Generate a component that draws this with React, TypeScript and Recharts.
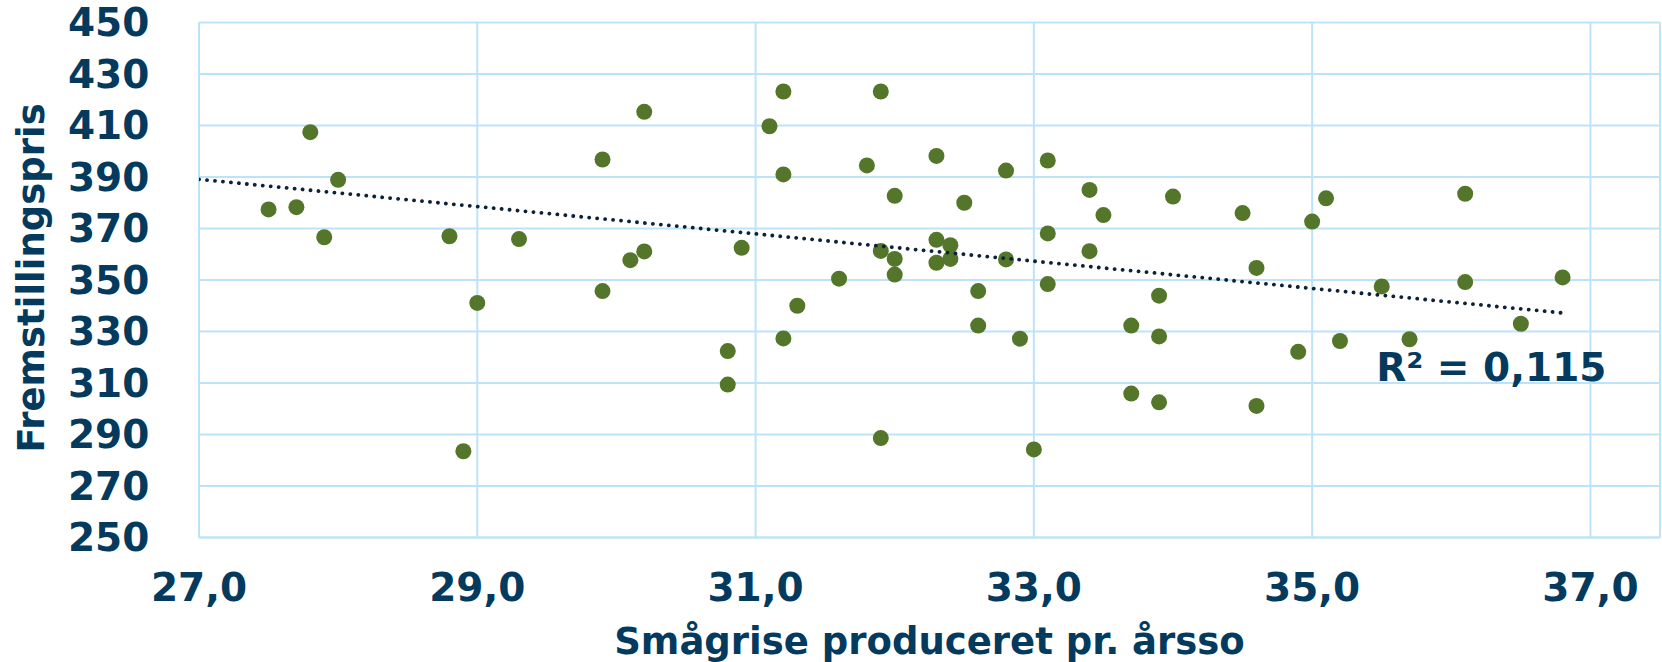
import React from 'react';
import { ScatterChart, Scatter, XAxis, YAxis, CartesianGrid, ReferenceDot } from 'recharts';

const smagrise = [
  27.5, 27.7, 27.8, 27.9, 28.0, 28.8, 28.9, 29.0, 29.3, 29.9, 29.9, 30.1, 30.2, 30.2, 30.8, 30.8, 30.9,
  31.1, 31.2, 31.2, 31.2, 31.3, 31.6, 31.8, 31.9, 31.9, 31.9, 32.0, 32.0, 32.0, 32.3, 32.3, 32.3, 32.4,
  32.4, 32.5, 32.6, 32.6, 32.8, 32.8, 32.9, 33.0, 33.1, 33.1, 33.1, 33.4, 33.4, 33.5, 33.7, 33.7, 33.9,
  33.9, 33.9, 34.0, 34.5, 34.6, 34.6, 34.9, 35.0, 35.1, 35.2, 35.5, 35.7, 36.1, 36.1, 36.5, 36.8,
];
const fremstillingspris = [
  377.4, 378.3, 407.4, 366.6, 388.9, 367.0, 283.5, 341.1, 365.9, 396.8, 345.7, 357.7, 361.1, 415.3, 322.4, 309.4, 362.5,
  409.7, 423.2, 391.0, 327.3, 340.0, 350.5, 394.5, 423.2, 361.3, 288.6, 382.7, 358.2, 352.1, 398.2, 365.6, 356.7, 363.5,
  358.2, 380.0, 345.7, 332.3, 392.5, 358.0, 327.2, 284.2, 396.4, 368.1, 348.4, 385.0, 361.2, 375.2, 332.3, 305.9, 343.9,
  328.1, 302.5, 382.4, 376.0, 354.7, 301.1, 322.1, 372.7, 381.7, 326.3, 347.5, 327.0, 383.5, 349.2, 333.0, 351.0,
];

const trendX = [27.0, 36.8];
const trendY = [389.1, 337.2];

const xTicks = [27, 29, 31, 33, 35, 37];
const yTicks = [250, 270, 290, 310, 330, 350, 370, 390, 410, 430, 450];

const r2Text = 'R² = 0,115';
const r2Pos = { x: 35.46, y: 310.6 };

const xTitle = 'Smågrise produceret pr. årsso';
const yTitle = 'Fremstillingspris';

const points = smagrise.map((x, i) => ({ x, y: fremstillingspris[i] }));
const trend = trendX.map((x, i) => ({ x, y: trendY[i] }));

const TEXT = '#033A5E';
const GREEN = '#54762A';
const GRID = '#BDE3F9';
const FONT = '"DejaVu Sans", Verdana, sans-serif';

const Dot = (props: any) => <circle cx={props.cx} cy={props.cy} r={8} fill={GREEN} />;
const NoShape = () => <g />;

export default function App() {
  return (
    <div style={{ position: 'absolute', left: 0, top: 0, width: 1662, height: 662, background: '#fff' }}>
      <ScatterChart width={1662} height={662} margin={{ top: 22.5, right: 2, left: 0, bottom: 0 }}>
        <CartesianGrid stroke={GRID} strokeWidth={2} />
        <XAxis
          type="number"
          dataKey="x"
          domain={[27, 37.5]}
          ticks={xTicks}
          allowDataOverflow
          height={124.5}
          tickLine={false}
          axisLine={{ stroke: GRID, strokeWidth: 2 }}
          tickMargin={29.5}
          tickFormatter={(v: number) => v.toFixed(1).replace('.', ',')}
          tick={{ fill: TEXT, fontSize: 39, fontWeight: 'bold', fontFamily: FONT }}
          label={{
            content: () => (
              <text x={929.5} y={654} textAnchor="middle" fill={TEXT} fontSize={37} fontWeight="bold" fontFamily={FONT}>
                {xTitle}
              </text>
            ),
          }}
        />
        <YAxis
          type="number"
          dataKey="y"
          domain={[250, 450]}
          ticks={yTicks}
          allowDataOverflow
          width={199}
          tickLine={false}
          axisLine={{ stroke: GRID, strokeWidth: 2 }}
          tickMargin={43.7}
          tick={{ fill: TEXT, fontSize: 39, fontWeight: 'bold', fontFamily: FONT }}
          label={{
            content: () => (
              <text
                x={43.5}
                y={278}
                transform="rotate(-90 43.5 278)"
                textAnchor="middle"
                fill={TEXT}
                fontSize={37}
                fontWeight="bold"
                fontFamily={FONT}
              >
                {yTitle}
              </text>
            ),
          }}
        />
        <Scatter data={points} shape={Dot} isAnimationActive={false} />
        <Scatter
          data={trend}
          shape={NoShape}
          isAnimationActive={false}
          line={{ stroke: '#0D2137', strokeWidth: 3.8, strokeDasharray: '0.1 7.9', strokeLinecap: 'round' }}
        />
        <ReferenceDot
          x={r2Pos.x}
          y={r2Pos.y}
          r={0}
          fill="none"
          stroke="none"
          label={{
            content: (p: any) => (
              <text
                x={p.viewBox.x}
                y={p.viewBox.y}
                fill={TEXT}
                fontSize={39}
                fontWeight="bold"
                fontFamily={FONT}
              >
                {r2Text}
              </text>
            ),
          }}
        />
      </ScatterChart>
    </div>
  );
}
